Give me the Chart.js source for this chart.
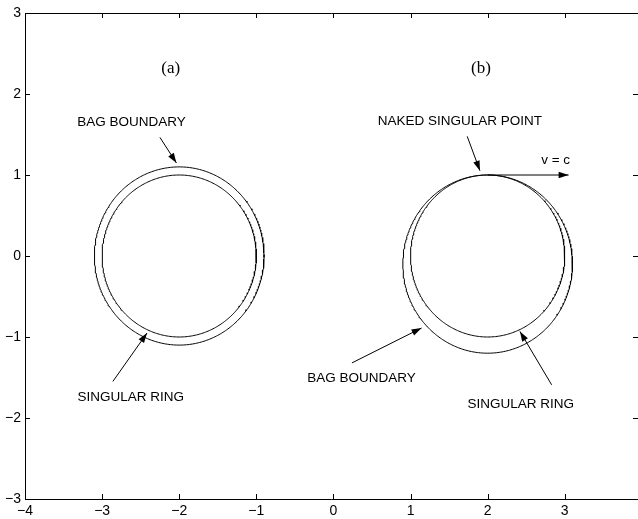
<!DOCTYPE html>
<html>
<head>
<meta charset="utf-8">
<script src="https://cdn.jsdelivr.net/npm/chart.js@4.4.1/dist/chart.umd.min.js"></script>
<style>
  html, body { margin: 0; padding: 0; background: #fff; overflow: hidden; }
  #wrap { width: 638px; height: 519px; }
</style>
</head>
<body>
<div id="wrap"><canvas id="chart"></canvas></div>
<script>
// axis ticks
const xTickValues = [-4, -3, -2, -1, 0, 1, 2, 3];
const yTickValues = [-3, -2, -1, 0, 1, 2, 3];

// rings: (a) singular ring, (a) bag boundary, (b) singular ring, (b) bag boundary
const circleCx = [-2, -2, 2, 2];
const circleCy = [0, 0, 0, -0.1];
const circleR = [1, 1.1, 1, 1.1];

// arrows (from -> to, head at "to")
const arrowFromX = [-2.25, -2.86, 1.735, 2.0, 0.24, 2.83];
const arrowFromY = [1.464, -1.548, 1.477, 1.0, -1.32, -1.59];
const arrowToX = [-2.036, -2.417, 1.90, 3.05, 1.143, 2.419];
const arrowToY = [1.148, -0.951, 1.053, 1.0, -0.889, -0.931];

// text labels
const labelText = ['(a)', '(b)', 'BAG BOUNDARY', 'SINGULAR RING', 'NAKED SINGULAR POINT', 'v = c', 'BAG BOUNDARY', 'SINGULAR RING'];
const labelX = [-2.11, 1.913, -2.62, -2.63, 1.64, 2.882, 0.365, 2.43];
const labelY = [2.31, 2.32, 1.65, -1.746, 1.662, 1.177, -1.515, -1.836];
const labelSerif = [true, true, false, false, false, false, false, false];

function ringPoints(cx, cy, r) {
  const pts = [];
  for (let i = 0; i <= 360; i++) {
    const t = i / 360 * Math.PI * 2;
    pts.push({ x: cx + r * Math.sin(t), y: cy + r * Math.cos(t) });
  }
  return pts;
}

const datasets = [];
circleCx.forEach((cx, i) => {
  datasets.push({
    data: ringPoints(cx, circleCy[i], circleR[i]),
    showLine: true, borderColor: '#000', borderWidth: 1, pointRadius: 0, tension: 0
  });
});
arrowFromX.forEach((x, i) => {
  datasets.push({
    isArrow: true,
    data: [{ x, y: arrowFromY[i] }, { x: arrowToX[i], y: arrowToY[i] }],
    showLine: true, borderColor: '#000', borderWidth: 1, pointRadius: 0
  });
});

const minus = v => String(v).replace('-', '\u2212');

const decor = {
  id: 'decor',
  afterDatasetsDraw(chart) {
    const { ctx, chartArea: a, scales } = chart;
    const xs = scales.x, ys = scales.y;
    ctx.save();
    ctx.strokeStyle = '#000';
    ctx.lineWidth = 1;
    // frame
    ctx.beginPath();
    ctx.moveTo(a.left + 0.5, a.top + 0.5);
    ctx.lineTo(a.right, a.top + 0.5);
    ctx.moveTo(a.left + 0.5, a.top);
    ctx.lineTo(a.left + 0.5, a.bottom + 0.5);
    ctx.lineTo(a.right, a.bottom + 0.5);
    // inward ticks
    xTickValues.forEach(v => {
      const px = Math.round(xs.getPixelForValue(v)) + 0.5;
      ctx.moveTo(px, a.bottom); ctx.lineTo(px, a.bottom - 5);
      ctx.moveTo(px, a.top); ctx.lineTo(px, a.top + 5);
    });
    yTickValues.forEach(v => {
      const py = Math.round(ys.getPixelForValue(v)) + 0.5;
      ctx.moveTo(a.left, py); ctx.lineTo(a.left + 5, py);
      ctx.moveTo(a.right, py); ctx.lineTo(a.right - 5, py);
    });
    ctx.stroke();

    // arrow heads
    ctx.fillStyle = '#000';
    chart.data.datasets.forEach((ds, i) => {
      if (!ds.isArrow) return;
      const pts = chart.getDatasetMeta(i).data;
      const p0 = pts[0], p1 = pts[1];
      const ang = Math.atan2(p1.y - p0.y, p1.x - p0.x);
      const len = 10, hw = 3.3;
      ctx.beginPath();
      ctx.moveTo(p1.x, p1.y);
      ctx.lineTo(p1.x - len * Math.cos(ang) + hw * Math.sin(ang), p1.y - len * Math.sin(ang) - hw * Math.cos(ang));
      ctx.lineTo(p1.x - len * Math.cos(ang) - hw * Math.sin(ang), p1.y - len * Math.sin(ang) + hw * Math.cos(ang));
      ctx.closePath();
      ctx.fill();
    });

    // labels
    ctx.textAlign = 'center';
    ctx.textBaseline = 'middle';
    labelText.forEach((t, i) => {
      ctx.font = labelSerif[i] ? '17px "Liberation Serif"' : '13.5px "Liberation Sans"';
      ctx.fillText(t, xs.getPixelForValue(labelX[i]), ys.getPixelForValue(labelY[i]));
    });
    ctx.restore();
  }
};

new Chart(document.getElementById('chart'), {
  type: 'scatter',
  data: { datasets },
  options: {
    responsive: true,
    maintainAspectRatio: false,
    animation: false,
    layout: { padding: { top: 13, right: 0, left: 0, bottom: 0 } },
    plugins: { legend: { display: false }, tooltip: { enabled: false } },
    scales: {
      x: {
        type: 'linear', min: -4, max: 3.95,
        afterBuildTicks: s => { s.ticks = xTickValues.map(v => ({ value: v })); },
        afterFit: s => { s.height = 20; },
        grid: { display: false, drawTicks: false },
        border: { display: false },
        ticks: { padding: 4, color: '#000', font: { family: 'Liberation Sans', size: 14 }, callback: minus, maxRotation: 0 }
      },
      y: {
        type: 'linear', min: -3, max: 3,
        afterBuildTicks: s => { s.ticks = yTickValues.map(v => ({ value: v })); },
        afterFit: s => { s.width = 25; },
        grid: { display: false, drawTicks: false },
        border: { display: false },
        ticks: { padding: 4, color: '#000', font: { family: 'Liberation Sans', size: 14 }, callback: minus }
      }
    }
  },
  plugins: [decor]
});
</script>
</body>
</html>
